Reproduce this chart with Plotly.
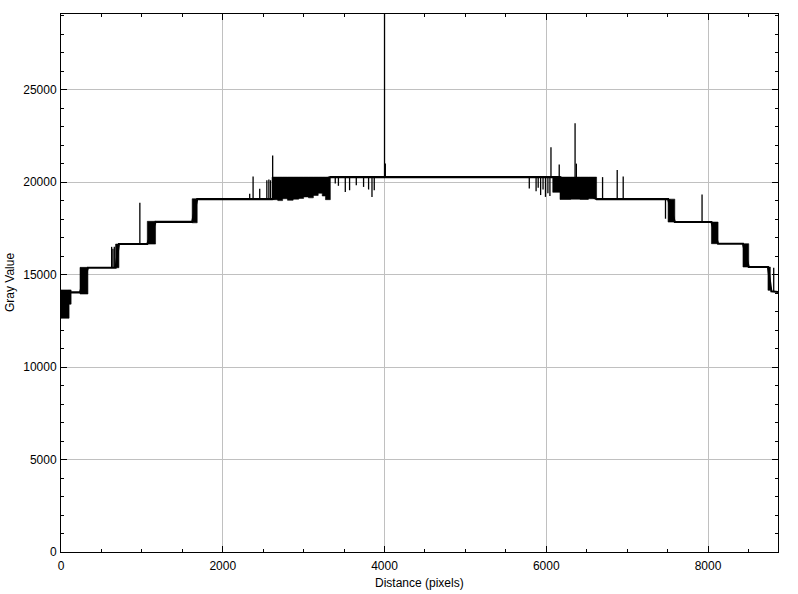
import plotly.graph_objects as go

# ---- data (Distance in pixels, Gray Value) ----
# plateau skeleton of the profile
level_x = [0, 120, 235, 333, 626, 675, 716, 1067, 1169, 1622, 1684, 2610,
           3330, 5778, 6170, 6622, 7466, 7506, 7589, 8042, 8124, 8432, 8503,
           8741, 8783, 8865]
level_y = [14100, 14040, 14040, 15370, 15370, 15370, 16650, 16650, 17850,
           17850, 19080, 19080, 20270, 20270, 20270, 19080, 19080, 19080,
           17840, 17840, 16670, 16670, 15410, 15410, 14100, 14060]

# dense oscillation blocks: start, end, low, high
band_x0 = [0, 100, 235, 675, 1067, 1622, 2610, 2680, 2740, 2800, 2870, 2940,
           3000, 3060, 3120, 3180, 3230, 3270, 6080, 6170, 6300, 6420, 6520,
           7506, 8042, 8432, 8741]
band_x1 = [100, 125, 333, 716, 1169, 1684, 2680, 2740, 2800, 2870, 2940, 3000,
           3060, 3120, 3180, 3230, 3270, 3330, 6170, 6300, 6420, 6520, 6622,
           7589, 8124, 8503, 8770]
band_lo = [12640, 13400, 13950, 15370, 16650, 17800, 19050, 19000, 19100,
           19020, 19080, 19120, 19200, 19150, 19280, 19400, 19250, 19050,
           19450, 19060, 19080, 19060, 19100, 17840, 16670, 15410, 14150]
band_hi = [14170, 14170, 15390, 16650, 17880, 19100, 20270, 20270, 20270,
           20270, 20270, 20270, 20270, 20270, 20270, 20270, 20270, 20270,
           20270, 20270, 20270, 20270, 20270, 19080, 17840, 16670, 15410]

# isolated spikes: position, base value, tip value
spike_x = [626, 642, 659, 975, 2333, 2375, 2457, 2545, 2570, 2590, 2617,
           3391, 3430, 3515, 3568, 3651, 3741, 3803, 3845, 3873, 4000, 4010,
           5790, 5874, 5900, 5930, 5960, 5990, 6020, 6045, 6058, 6160, 6356,
           6372, 6696, 6877, 6951, 7474, 7528, 7926, 8812]
spike_base = [15370, 15370, 15370, 16650, 19080, 19080, 19080, 19080, 19080,
              19080, 19080, 20270, 20270, 20270, 20270, 20270, 20270, 20270,
              20270, 20270, 20270, 20270, 20270, 20270, 20270, 20270, 20270,
              20270, 20270, 20270, 20270, 20270, 20270, 20270, 19080, 19080,
              19080, 19080, 19080, 17840, 14100]
spike_tip = [16500, 16400, 16500, 18880, 19370, 20300, 19640, 20100, 20140,
             20100, 21440, 19930, 19800, 19470, 19560, 19830, 19740, 19600,
             19200, 19560, 29500, 21000, 19650, 19500, 19700, 19300, 19600,
             19200, 19400, 19250, 21890, 20950, 23180, 21000, 20270, 20660,
             20300, 18020, 17840, 19330, 15370]

x_ticks = [0, 2000, 4000, 6000, 8000]
x_labels = ["0", "2000", "4000", "6000", "8000"]
y_ticks = [0, 5000, 10000, 15000, 20000, 25000]
y_labels = ["0", "5000", "10000", "15000", "20000", "25000"]
x_range = [0, 8865]
y_range = [0, 29090]

# ---- build traces ----
fig = go.Figure()

bx, by = [], []
for a, b, lo, hi in zip(band_x0, band_x1, band_lo, band_hi):
    bx += [a, b, b, a, a, None]
    by += [lo, lo, hi, hi, lo, None]
fig.add_trace(go.Scatter(x=bx, y=by, mode="lines", fill="toself",
                         fillcolor="black", line=dict(color="black", width=0.6),
                         hoverinfo="skip", showlegend=False))

sx, sy = [], []
for x, b, t in zip(spike_x, spike_base, spike_tip):
    sx += [x, x, None]
    sy += [b, t, None]
fig.add_trace(go.Scatter(x=sx, y=sy, mode="lines",
                         line=dict(color="black", width=1.3),
                         hoverinfo="skip", showlegend=False))

fig.add_trace(go.Scatter(x=level_x, y=level_y, mode="lines",
                         line=dict(color="black", width=2.1),
                         showlegend=False))

font = dict(family="Liberation Sans, Arial, sans-serif", size=12, color="black")

fig.update_layout(
    width=798, height=594,
    margin=dict(l=61, r=20, t=14, b=42),
    paper_bgcolor="white", plot_bgcolor="white",
    font=font,
    xaxis=dict(range=x_range, tickvals=x_ticks, ticktext=x_labels,
               ticks="inside", ticklen=6, ticklabelstandoff=3,
               tickcolor="black", showline=True, linecolor="black",
               linewidth=1, mirror="allticks", showgrid=True,
               gridcolor="#c0c0c0", gridwidth=1, zeroline=False,
               tickfont=font, automargin=False,
               minor=dict(dtick=500, ticks="inside", ticklen=3,
                          tickcolor="black", showgrid=False)),
    yaxis=dict(range=y_range, tickvals=y_ticks, ticktext=y_labels,
               ticks="inside", ticklen=6, ticklabelstandoff=1,
               tickcolor="black", showline=True, linecolor="black",
               linewidth=1, mirror="allticks", showgrid=True,
               gridcolor="#c0c0c0", gridwidth=1, zeroline=False,
               tickfont=font, automargin=False,
               minor=dict(dtick=1000, ticks="inside", ticklen=3,
                          tickcolor="black", showgrid=False)),
    annotations=[
        dict(text="Distance (pixels)", xref="paper", yref="paper", x=0.5,
             y=0, yshift=-31, showarrow=False, font=font,
             xanchor="center", yanchor="middle"),
        dict(text="Gray Value", xref="paper", yref="paper", x=0, y=0.5,
             xshift=-51, textangle=-90, showarrow=False, font=font,
             xanchor="center", yanchor="middle"),
    ],
)

fig.write_html("out.html",
               config={"displayModeBar": False},
               post_script="document.body.style.margin='0';"
                           "document.body.style.padding='0';"
                           "document.body.style.overflow='hidden';")
